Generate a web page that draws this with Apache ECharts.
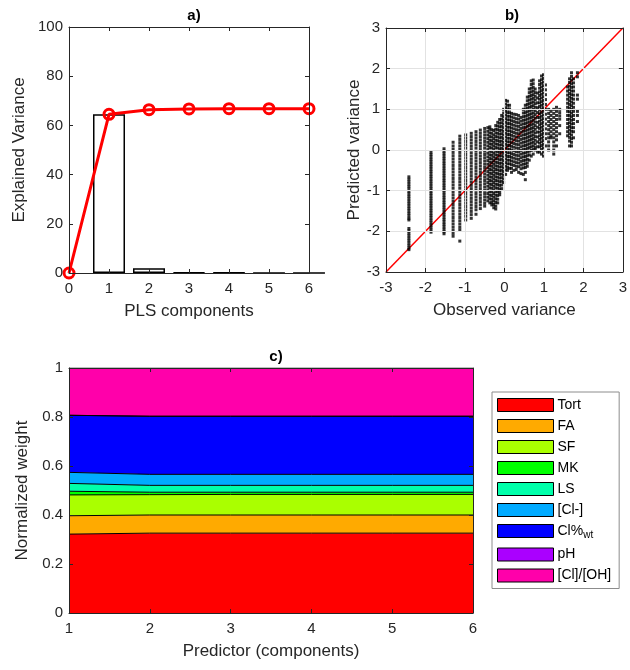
<!DOCTYPE html>
<html>
<head>
<meta charset="utf-8">
<script src="https://cdn.jsdelivr.net/npm/echarts@6/dist/echarts.min.js"></script>
<style>
html,body{margin:0;padding:0;background:#fff;}
#chart{width:630px;height:670px;}
</style>
</head>
<body>
<div id="chart"></div>
<script>
// ---------------- Panel a) data ----------------
const plsBarComponents = [1, 2, 3, 4, 5, 6];
const plsBarVariance = [64.5, 1.9, 0.3, 0.15, 0.08, 0.05];
const plsLineComponents = [0, 1, 2, 3, 4, 5, 6];
const plsCumVariance = [0, 64.5, 66.4, 66.7, 66.8, 66.8, 66.8];

// ---------------- Panel b) data ----------------
// observed value of each vertical streak and the predicted values read along it
const observedCols = [
  -2.42, -1.86, -1.53, -1.30, -1.13, -0.98, -0.84, -0.72, -0.61, -0.50,
  -0.42, -0.37, -0.32, -0.27, -0.22, -0.17, -0.12, -0.07, -0.02, 0.03,
  0.08, 0.13, 0.18, 0.24, 0.30, 0.36, 0.42, 0.48, 0.53, 0.58,
  0.63, 0.68, 0.73, 0.78, 0.84, 0.89, 0.94, 0.99, 1.04, 1.12,
  1.18, 1.25, 1.32, 1.40, 1.60, 1.65, 1.70, 1.75, 1.85
];
const predictedCols = [
  [-0.66,-0.72,-0.78,-0.84,-0.90,-0.96,-1.02,-1.08,-1.14,-1.20,-1.26,-1.32,-1.38,-1.44,-1.50,-1.56,-1.62,-1.68,-1.72,-1.93,-1.99,-2.05,-2.11,-2.17,-2.23,-2.29,-2.35,-2.41,-2.45],
  [-0.05,-0.11,-0.17,-0.23,-0.29,-0.35,-0.41,-0.47,-0.53,-0.59,-0.65,-0.71,-0.77,-0.83,-0.89,-0.95,-1.01,-1.07,-1.13,-1.19,-1.25,-1.31,-1.37,-1.43,-1.49,-1.55,-1.61,-1.67,-1.73,-1.79,-1.85,-1.91,-1.97,-2.02],
  [0.03,-0.03,-0.09,-0.15,-0.21,-0.27,-0.33,-0.39,-0.45,-0.51,-0.57,-0.63,-0.69,-0.75,-0.81,-0.87,-0.93,-0.99,-1.05,-1.11,-1.17,-1.23,-1.29,-1.35,-1.41,-1.47,-1.53,-1.59,-1.65,-1.71,-1.77,-1.83,-1.89,-1.95,-2.01,-2.06],
  [0.19,0.10,0.02,-0.06,-0.14,-0.22,-0.30,-0.38,-0.46,-0.54,-0.62,-0.70,-0.78,-0.86,-0.94,-1.02,-1.10,-1.18,-1.26,-1.34,-1.42,-1.50,-1.58,-1.66,-1.74,-1.82,-1.90,-1.98,-2.05,-2.12],
  [0.34,0.26,0.18,0.10,0.02,-0.06,-0.14,-0.22,-0.30,-0.38,-0.46,-0.54,-0.62,-0.70,-0.78,-0.86,-0.94,-1.02,-1.10,-1.18,-1.26,-1.34,-1.42,-1.50,-1.58,-1.66,-1.74,-1.82,-1.90,-1.97,-2.24],
  [0.37,0.29,0.21,0.13,0.05,-0.03,-0.11,-0.19,-0.27,-0.35,-0.43,-0.51,-0.59,-0.67,-0.75,-0.83,-0.91,-0.99,-1.07,-1.15,-1.23,-1.31,-1.39,-1.47,-1.55,-1.63,-1.72],
  [0.41,0.33,0.25,0.17,0.09,0.01,-0.07,-0.15,-0.23,-0.31,-0.39,-0.47,-0.55,-0.63,-0.71,-0.79,-0.87,-0.95,-1.03,-1.11,-1.19,-1.27,-1.35,-1.43,-1.51,-1.59,-1.68],
  [0.45,0.37,0.29,0.21,0.13,0.05,-0.03,-0.11,-0.19,-0.27,-0.35,-0.43,-0.51,-0.59,-0.67,-0.75,-0.83,-0.91,-0.99,-1.07,-1.15,-1.23,-1.31,-1.39,-1.47,-1.58],
  [0.49,0.41,0.33,0.25,0.17,0.09,0.01,-0.07,-0.15,-0.23,-0.31,-0.39,-0.47,-0.55,-0.63,-0.71,-0.79,-0.87,-0.95,-1.03,-1.11,-1.19,-1.27,-1.35,-1.44],
  [0.53,0.45,0.37,0.29,0.21,0.13,0.05,-0.03,-0.11,-0.19,-0.27,-0.35,-0.43,-0.51,-0.59,-0.67,-0.75,-0.83,-0.91,-0.99,-1.07,-1.15,-1.23,-1.31,-1.38],
  [0.55,0.46,0.37,0.28,0.19,0.10,0.01,-0.08,-0.17,-0.26,-0.35,-0.44,-0.53,-0.62,-0.71,-0.80,-0.89,-0.98,-1.07,-1.16,-1.25],
  [0.57,0.51,0.42,0.33,0.24,0.15,0.06,-0.03,-0.12,-0.21,-0.30,-0.39,-0.48,-0.57,-0.66,-0.75,-0.84,-0.93,-1.02,-1.11,-1.20,-1.30],
  [0.50,0.41,0.32,0.23,0.14,0.05,-0.04,-0.13,-0.22,-0.31,-0.40,-0.49,-0.58,-0.67,-0.76,-0.85,-0.94,-1.03,-1.12,-1.21,-1.29,-1.35],
  [0.48,0.37,0.28,0.19,0.10,0.01,-0.08,-0.17,-0.26,-0.35,-0.44,-0.53,-0.62,-0.71,-0.80,-0.89,-0.98,-1.07,-1.16,-1.25,-1.34,-1.42],
  [0.60,0.51,0.42,0.33,0.24,0.15,0.06,-0.03,-0.12,-0.21,-0.30,-0.39,-0.48,-0.57,-0.66,-0.75,-0.84,-0.93,-1.02,-1.11,-1.20,-1.29,-1.38,-1.45],
  [0.68,0.59,0.50,0.41,0.32,0.23,0.14,0.05,-0.04,-0.13,-0.22,-0.31,-0.40,-0.49,-0.58,-0.67,-0.76,-0.85,-0.94,-1.03,-1.12,-1.21,-1.30],
  [0.75,0.66,0.57,0.48,0.39,0.30,0.21,0.12,0.03,-0.06,-0.15,-0.24,-0.33,-0.42,-0.51,-0.60,-0.69,-0.78,-0.87,-0.96,-1.04,-1.10],
  [0.85,0.76,0.67,0.58,0.49,0.40,0.31,0.22,0.13,0.04,-0.05,-0.14,-0.23,-0.32,-0.41,-0.50,-0.59,-0.68,-0.77,-0.86,-0.95],
  [1.00,0.91,0.82,0.73,0.64,0.55,0.46,0.37,0.28,0.19,0.10,0.01,-0.08,-0.17,-0.26,-0.35,-0.44,-0.53,-0.62,-0.71,-0.80],
  [1.22,1.13,1.04,0.95,0.86,0.77,0.68,0.59,0.50,0.41,0.32,0.23,0.14,0.05,-0.04,-0.13,-0.22,-0.31,-0.40,-0.49,-0.60],
  [1.20,1.10,1.01,0.92,0.83,0.74,0.65,0.56,0.47,0.38,0.29,0.20,0.11,0.02,-0.07,-0.16,-0.25,-0.34,-0.43,-0.50],
  [1.10,1.01,0.92,0.83,0.74,0.65,0.56,0.47,0.38,0.29,0.20,0.11,0.02,-0.07,-0.16,-0.25,-0.34,-0.45],
  [0.90,0.81,0.72,0.63,0.54,0.45,0.36,0.27,0.18,0.09,0.00,-0.09,-0.18,-0.27,-0.36,-0.45,-0.55],
  [0.88,0.79,0.70,0.61,0.52,0.43,0.34,0.25,0.16,0.07,-0.02,-0.11,-0.20,-0.29,-0.38,-0.50],
  [0.87,0.77,0.68,0.59,0.50,0.41,0.32,0.23,0.14,0.05,-0.04,-0.13,-0.22,-0.31,-0.40,-0.48],
  [0.85,0.76,0.67,0.58,0.49,0.40,0.31,0.22,0.13,0.04,-0.05,-0.14,-0.23,-0.32,-0.41,-0.55],
  [0.80,0.71,0.62,0.53,0.44,0.35,0.26,0.17,0.08,-0.01,-0.10,-0.19,-0.28,-0.37,-0.46,-0.58],
  [1.00,0.91,0.82,0.73,0.64,0.55,0.46,0.37,0.28,0.19,0.10,0.01,-0.08,-0.17,-0.26,-0.35,-0.44,-0.60],
  [1.10,1.01,0.92,0.83,0.74,0.65,0.56,0.47,0.38,0.29,0.20,0.11,0.02,-0.07,-0.16,-0.25,-0.34,-0.43,-0.55,-0.73],
  [1.30,1.21,1.12,1.03,0.94,0.85,0.76,0.67,0.58,0.49,0.40,0.31,0.22,0.13,0.04,-0.05,-0.14,-0.23,-0.32,-0.40],
  [1.50,1.41,1.32,1.23,1.14,1.05,0.96,0.87,0.78,0.69,0.60,0.51,0.42,0.33,0.24,0.15,0.06,-0.03,-0.12,-0.25],
  [1.70,1.61,1.52,1.43,1.34,1.25,1.16,1.07,0.98,0.89,0.80,0.71,0.62,0.53,0.44,0.35,0.26,0.17,0.08,-0.01,-0.15],
  [1.72,1.63,1.54,1.45,1.36,1.27,1.18,1.09,1.00,0.91,0.82,0.73,0.64,0.55,0.46,0.37,0.28,0.19,0.10,0.01,-0.10],
  [1.50,1.41,1.32,1.23,1.14,1.05,0.96,0.87,0.78,0.69,0.60,0.51,0.42,0.33,0.24,0.15,0.06,0.00],
  [1.40,1.28,1.16,1.04,0.92,0.80,0.68,0.56,0.44,0.32,0.20,0.08,-0.05],
  [1.70,1.61,1.52,1.43,1.34,1.25,1.16,1.07,0.98,0.89,0.80,0.71,0.62,0.53,0.44,0.35,0.26,0.17,0.08,-0.05],
  [1.82,1.73,1.64,1.55,1.46,1.37,1.28,1.19,1.10,1.01,0.92,0.83,0.74,0.65,0.56,0.47,0.38,0.29,0.20,0.11,0.02,-0.10],
  [1.85,1.76,1.67,1.58,1.49,1.40,1.31,1.22,1.13,1.04,0.95,0.86,0.77,0.68,0.59,0.50,0.41,0.32,0.23,0.14,0.05,-0.05,-0.15],
  [1.60,1.48,1.36,1.24,1.12,1.00,0.88,0.76,0.64,0.52,0.40,0.28,0.10],
  [1.00,0.90,0.80,0.70,0.60,0.50,0.40,0.30,0.20,0.10,0.00],
  [0.95,0.85,0.75,0.65,0.55,0.45,0.35,0.30],
  [1.00,0.90,0.80,0.70,0.60,0.50,0.40,0.30,0.20,0.10,0.00,-0.10],
  [1.05,0.95,0.85,0.75,0.65,0.55,0.45,0.35,0.25,0.10],
  [1.00,0.92,0.84,0.76,0.60,0.40],
  [1.55,1.45,1.35,1.25,1.15,1.05,0.95,0.85,0.75,0.65,0.55,0.45,0.35],
  [1.75,1.66,1.57,1.48,1.39,1.30,1.21,1.12,1.03,0.94,0.85,0.76,0.67,0.58,0.49,0.40,0.31,0.22,0.10],
  [1.90,1.81,1.72,1.63,1.54,1.45,1.36,1.27,1.18,1.09,1.00,0.91,0.82,0.73,0.64,0.55,0.46,0.37,0.28,0.19,0.10],
  [1.75,1.65,1.55,1.45,1.35,1.25,1.15,1.05,0.95,0.85,0.75,0.65,0.55,0.45,0.30],
  [1.90,1.80,1.35,1.25,0.95,0.85,0.70]
];
const identityLine = [[-3, -3], [3, 3]];

// ---------------- Panel c) data ----------------
const predictorSteps = ['1', '2', '3', '4', '5', '6'];
const weightNames = ['Tort', 'FA', 'SF', 'MK', 'LS', '[Cl-]', 'Cl%wt', 'pH', '[Cl]/[OH]'];
const wTort = [0.322, 0.326, 0.326, 0.326, 0.326, 0.326];
const wFA   = [0.075, 0.074, 0.074, 0.074, 0.074, 0.074];
const wSF   = [0.085, 0.083, 0.084, 0.084, 0.084, 0.084];
const wMK   = [0.015, 0.010, 0.009, 0.009, 0.009, 0.009];
const wLS   = [0.032, 0.028, 0.028, 0.028, 0.028, 0.028];
const wClIon = [0.045, 0.045, 0.045, 0.045, 0.045, 0.045];
const wClWt = [0.233, 0.237, 0.237, 0.237, 0.237, 0.237];
const wPH   = [0.000, 0.000, 0.000, 0.000, 0.000, 0.000];
const wClOH = [0.193, 0.197, 0.197, 0.197, 0.197, 0.197];
const weightColors = ['#ff0000', '#ffaa00', '#aaff00', '#00ff00', '#00ffaa', '#00aaff', '#0000ff', '#aa00ff', '#ff00aa'];

// ---------------- build ----------------
const FONT = '"Liberation Sans", Arial, Helvetica, sans-serif';
const AX = '#262626';

function mainX(grid, min, max, interval, name, gap, split) {
  return {
    type: 'value', gridIndex: grid, min: min, max: max, interval: interval,
    name: name, nameLocation: 'middle', nameGap: gap,
    nameTextStyle: { fontSize: 17, color: AX, fontFamily: FONT },
    axisLine: { show: true, onZero: false, lineStyle: { color: AX, width: 1 } },
    axisTick: { show: true, inside: true, length: 4, lineStyle: { color: AX } },
    axisLabel: { fontSize: 15, color: AX, margin: 8, fontFamily: FONT },
    splitLine: { show: split, lineStyle: { color: '#e2e2e2', width: 1 } },
    z: 10
  };
}
function mainY(grid, min, max, interval, name, gap, split) {
  const a = mainX(grid, min, max, interval, name, gap, split);
  a.axisLabel.margin = 6;
  return a;
}
function boxAxis(grid, min, max, interval, pos) {
  return {
    type: 'value', gridIndex: grid, min: min, max: max, interval: interval, position: pos,
    axisLine: { show: true, onZero: false, lineStyle: { color: AX, width: 1 } },
    axisTick: { show: true, inside: true, length: 4, lineStyle: { color: AX } },
    axisLabel: { show: false }, splitLine: { show: false }, z: 10
  };
}
const catX = {
  type: 'category', gridIndex: 2, data: predictorSteps, boundaryGap: false,
  name: 'Predictor (components)', nameLocation: 'middle', nameGap: 30,
  nameTextStyle: { fontSize: 17, color: AX, fontFamily: FONT },
  axisLine: { show: true, onZero: false, lineStyle: { color: AX, width: 1 } },
  axisTick: { show: true, inside: true, length: 4, lineStyle: { color: AX } },
  axisLabel: { fontSize: 15, color: AX, margin: 8, fontFamily: FONT },
  splitLine: { show: false }, z: 10
};

const scatterPts = [];
observedCols.forEach(function (x, i) {
  predictedCols[i].forEach(function (y) { scatterPts.push([x, y]); });
});

const weightSeriesData = [wTort, wFA, wSF, wMK, wLS, wClIon, wClWt, wPH, wClOH];
const areaSeries = weightNames.map(function (nm, k) {
  return {
    name: nm, type: 'line', xAxisIndex: 4, yAxisIndex: 4, stack: 'w',
    symbol: 'none', silent: true,
    lineStyle: { color: '#000', width: 1 },
    itemStyle: { color: weightColors[k] },
    areaStyle: { color: weightColors[k], opacity: 1 },
    data: weightSeriesData[k],
    z: 2
  };
});

const option = {
  animation: false,
  backgroundColor: '#ffffff',
  textStyle: { fontFamily: FONT },
  title: [
    { text: 'a)', left: 189, top: 3, textAlign: 'center', textStyle: { fontSize: 15, fontWeight: 'bold', color: '#000', fontFamily: FONT } },
    { text: 'b)', left: 507, top: 3, textAlign: 'center', textStyle: { fontSize: 15, fontWeight: 'bold', color: '#000', fontFamily: FONT } },
    { text: 'c)', left: 271, top: 344, textAlign: 'center', textStyle: { fontSize: 15, fontWeight: 'bold', color: '#000', fontFamily: FONT } }
  ],
  grid: [
    { left: 69, top: 27, width: 240, height: 246 },
    { left: 386, top: 28, width: 241, height: 244 },
    { left: 69, top: 368, width: 404, height: 245 }
  ],
  xAxis: [
    mainX(0, 0, 6, 1, 'PLS components', 30, false),
    boxAxis(0, 0, 6, 1, 'top'),
    mainX(1, -3, 3, 1, 'Observed variance', 30, true),
    boxAxis(1, -3, 3, 1, 'top'),
    catX,
    boxAxis(2, 1, 6, 1, 'top')
  ],
  yAxis: [
    mainY(0, 0, 100, 20, 'Explained Variance', 41, false),
    boxAxis(0, 0, 100, 20, 'right'),
    mainY(1, -3, 3, 1, 'Predicted variance', 22, true),
    boxAxis(1, -3, 3, 1, 'right'),
    mainY(2, 0, 1, 0.2, 'Normalized weight', 33, false),
    boxAxis(2, 0, 1, 0.2, 'right')
  ],
  legend: {
    data: weightNames.map(function (nm, k) {
      return { name: nm, icon: 'rect', itemStyle: { color: weightColors[k], borderColor: '#000', borderWidth: 1 } };
    }),
    orient: 'vertical', left: 492, top: 392,
    itemWidth: 56, itemHeight: 13, itemGap: 7,
    padding: [6, 8, 6, 5],
    backgroundColor: '#fff', borderColor: '#8c8c8c', borderWidth: 1, borderRadius: 0,
    selectedMode: false,
    formatter: function (name) { return name === 'Cl%wt' ? 'Cl%{sub|wt}' : name; },
    textStyle: {
      fontSize: 14, color: '#000', fontFamily: FONT, padding: [0, 0, 0, -1],
      rich: { sub: { fontSize: 10, color: '#000', fontFamily: FONT, padding: [9, 0, 0, 0] } }
    }
  },
  series: [
    {
      name: 'bars', type: 'bar', xAxisIndex: 0, yAxisIndex: 0, barWidth: 32, silent: true,
      itemStyle: { color: '#ffffff', borderColor: '#000', borderWidth: 1.5 },
      data: plsBarComponents.map(function (c, i) { return [c, plsBarVariance[i]]; })
    },
    {
      name: 'cum', type: 'line', xAxisIndex: 0, yAxisIndex: 0, silent: true,
      symbol: 'circle', symbolSize: 10,
      lineStyle: { color: '#ff0000', width: 3 },
      itemStyle: { color: 'rgba(255,255,255,0)', borderColor: '#ff0000', borderWidth: 3 },
      data: plsLineComponents.map(function (c, i) { return [c, plsCumVariance[i]]; }),
      z: 5
    },
    {
      name: 'identity', type: 'line', xAxisIndex: 2, yAxisIndex: 2, silent: true,
      symbol: 'none', lineStyle: { color: '#ff0000', width: 1.5 },
      data: identityLine, z: 2
    },
    {
      name: 'points', type: 'scatter', xAxisIndex: 2, yAxisIndex: 2, silent: true,
      symbol: 'rect', symbolSize: 3, itemStyle: { color: '#000' },
      data: scatterPts, z: 3
    }
  ].concat(areaSeries)
};

const chart = echarts.init(document.getElementById('chart'), null, { renderer: 'canvas' });
chart.setOption(option);
</script>
</body>
</html>
